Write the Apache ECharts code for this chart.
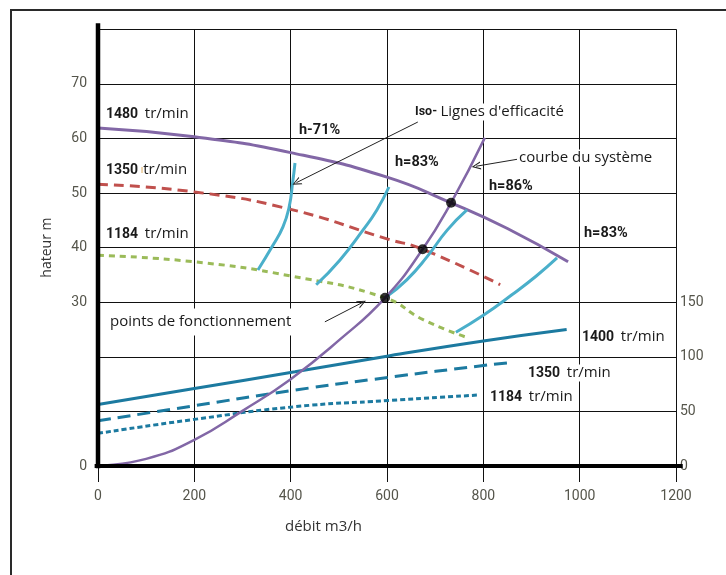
<!DOCTYPE html>
<html>
<head>
<meta charset="utf-8">
<script src="https://cdn.jsdelivr.net/npm/echarts@6/dist/echarts.min.js"></script>
<style>
html,body{margin:0;padding:0;background:#fff;}
#frame{position:absolute;left:10px;top:9px;width:740px;height:600px;border-left:2px solid #2a2a2a;border-top:2px solid #2a2a2a;}
#chart{position:absolute;left:0;top:0;width:726px;height:575px;}
</style>
</head>
<body>
<div id="frame"></div>
<div id="chart"></div>
<script>
// ---- data ----
// x: débit m3/h ; left y: hauteur m ; right y: puissance
const xTickValues = [0, 200, 400, 600, 800, 1000, 1200];
const leftTickLabels = [0, 30, 40, 50, 60, 70];
const rightTickLabels = [0, 50, 100, 150];

// pump head curves (left axis)
const head1480 = [[0,61.9],[200,60.3],[400,57.4],[600,52.9],[733,48.2],[850,43.5],[976,37.4]];
const head1350 = [[0,51.6],[200,50.2],[400,47.0],[600,41.6],[674,39.7],[835,33.2]];
const head1184 = [[0,38.6],[200,37.4],[400,34.8],[596,30.8],[675,26.8],[764,23.6]];

// system curve (left axis)
const systemCurve = [[0,0],[100,1.3],[200,4.8],[300,10.1],[400,15.9],[500,23.0],[596,30.8],[674,39.7],[733,48.2],[803,60.1]];

// operating points
const operatingPoints = [[596,30.8],[674,39.7],[733,48.2]];

// iso-efficiency lines (left axis)
const eff71 = [[332,35.9],[361,40.1],[384,43.8],[397,47.5],[404,51.8],[409,55.5]];
const eff83a = [[453,33.2],[502,37.7],[550,43.2],[579,46.9],[604,51.1]];
const eff86 = [[596,30.8],[641,34.1],[683,38.3],[725,43.2],[766,46.9]];
const eff83b = [[743,24.5],[800,27.6],[860,31.4],[910,34.8],[953,38.1]];

// power curves (right axis)
const power1400 = [[0,56.4],[200,71.0],[409,86.3],[606,101.0],[800,114.5],[973,125.0]];
const power1350 = [[0,41.4],[200,55.2],[409,69.5],[602,81.1],[800,92.0],[859,94.8]];
const power1184 = [[0,29.9],[200,42.7],[409,54.3],[602,59.9],[790,65.0]];

// annotation arrows (data coords: from -> to)
const arrowIso = [[664,63.0],[412,51.9]];
const arrowSys = [[872,56.2],[785,54.9]];
const arrowPts = [[471,26.4],[548,29.9]];

// ---- chart ----
const chart = echarts.init(document.getElementById('chart'), null, {renderer:'canvas'});
const tickFont = 'Roboto';
const tickColor = '#55554b';
const txtFont = '"Open Sans"';
const PURPLE = '#8267a6', RED = '#c0504d', GREEN = '#9bbb59', CYAN = '#4aafca', TEAL = '#1c7aa0';
const chevron = 'path://M50,0 L100,100 L86,100 L50,26 L14,100 L0,100 Z';

function lineSeries(data, color, type, width, yIdx, extra) {
  return Object.assign({
    type: 'line', data: data, yAxisIndex: yIdx || 0, xAxisIndex: 0,
    smooth: 0.5, showSymbol: false, symbol: 'none', silent: true,
    lineStyle: {color: color, width: width || 3, type: type || 'solid', cap: 'butt'},
    z: 3
  }, extra || {});
}
function arrowLine(pair) {
  return [{coord: pair[0]}, {coord: pair[1]}];
}

const option = {
  animation: false,
  backgroundColor: 'transparent',
  grid: {left: 98, right: 50, top: 29.2, bottom: 109, containLabel: false},
  title: {
    text: 'débit m3/h', left: 280, top: 514,
    textStyle: {fontFamily: txtFont, fontSize: 15, fontWeight: 'normal', color: '#333'}
  },
  xAxis: [{
    type: 'value', min: 0, max: 1200, interval: 200, position: 'bottom',
    axisLine: {show: false},
    axisTick: {show: true, length: 16, inside: false, lineStyle: {color: '#111', width: 1}},
    axisLabel: {margin: 23, fontFamily: tickFont, fontSize: 14, color: tickColor,
      formatter: v => xTickValues.indexOf(v) >= 0 ? String(v) : ''},
    splitLine: {show: true, lineStyle: {color: '#111', width: 1}}
  }, {
    type: 'value', min: 0, max: 1200, interval: 200, position: 'top',
    axisLine: {show: false},
    axisTick: {show: true, length: 8, inside: false, lineStyle: {color: '#111', width: 1}},
    axisLabel: {show: false}, splitLine: {show: false}
  }],
  yAxis: [{
    type: 'value', min: 0, max: 80, interval: 10, position: 'left',
    name: 'hateur m', nameLocation: 'middle', nameGap: 44, nameRotate: 90,
    nameTextStyle: {fontFamily: txtFont, fontSize: 14, color: '#333'},
    axisLine: {show: false}, axisTick: {show: false},
    axisLabel: {margin: 11, fontFamily: tickFont, fontSize: 14, color: tickColor,
      formatter: v => leftTickLabels.indexOf(v) >= 0 ? String(v) : ''},
    splitLine: {show: true, lineStyle: {color: '#111', width: 1}}
  }, {
    type: 'value', min: 0, max: 400, interval: 50, position: 'right',
    axisLine: {show: false},
    axisTick: {show: true, length: 7, inside: false, lineStyle: {color: '#111', width: 1}},
    axisLabel: {margin: 4, fontFamily: tickFont, fontSize: 14, color: tickColor,
      formatter: v => rightTickLabels.indexOf(v) >= 0 ? String(v) : ''},
    splitLine: {show: false}
  }],
  series: [
    lineSeries(power1400, TEAL, 'solid', 3, 1),
    lineSeries(power1350, TEAL, [13, 7], 3, 1),
    lineSeries(power1184, TEAL, [5, 3], 3, 1),
    lineSeries(head1480, PURPLE, 'solid', 3, 0),
    lineSeries(head1350, RED, [10, 6], 3, 0),
    lineSeries(head1184, GREEN, [6, 5], 3, 0),
    lineSeries(eff71, CYAN, 'solid', 3, 0),
    lineSeries(eff83a, CYAN, 'solid', 3, 0),
    lineSeries(eff86, CYAN, 'solid', 3, 0),
    lineSeries(eff83b, CYAN, 'solid', 3, 0),
    lineSeries(systemCurve, PURPLE, 'solid', 2.5, 0, {
      markLine: {
        silent: true, animation: false,
        symbol: ['none', chevron], symbolSize: [8, 9],
        label: {show: false},
        lineStyle: {color: '#222', width: 1, type: 'solid'},
        emphasis: {disabled: true},
        data: [arrowLine(arrowIso), arrowLine(arrowSys), arrowLine(arrowPts)]
      }
    }),
    {
      type: 'scatter', data: operatingPoints, xAxisIndex: 0, yAxisIndex: 0,
      symbol: 'circle', symbolSize: 10, silent: true,
      itemStyle: {color: '#000'}, z: 5
    }
  ]
};
chart.setOption(option);

// thick axis lines, positioned through the axes' own scales
const pTop = chart.convertToPixel({seriesIndex: 3}, [0, 81.1]);
const pBot = chart.convertToPixel({seriesIndex: 3}, [0, -0.4]);
const pL = chart.convertToPixel({seriesIndex: 3}, [-7, 0]);
const pR = chart.convertToPixel({seriesIndex: 3}, [1214, 0]);

function lbl(x, y, text, rich, extra) {
  return Object.assign({
    type: 'text', x: x, y: y, z: 20,
    style: Object.assign({text: text, rich: rich, verticalAlign: 'middle', align: 'left',
      backgroundColor: '#fff', padding: [1, 2]}, extra || {})
  });
}
const richRpm = {
  b: {fontFamily: 'Roboto', fontWeight: 'bold', fontSize: 14, fill: '#1a1a1a', color: '#1a1a1a'},
  n: {fontFamily: txtFont, fontSize: 15, fill: '#1a1a1a', color: '#1a1a1a'},
  o: {fontFamily: txtFont, fontSize: 10, fill: '#d9a04a', color: '#d9a04a'}
};
const richPct = {
  p: {fontFamily: 'Roboto', fontWeight: 'bold', fontSize: 14.5, fill: '#1a1a1a', color: '#1a1a1a'}
};
const richIso = {
  b: {fontFamily: 'Roboto', fontWeight: 'bold', fontSize: 12.5, fill: '#1a1a1a', color: '#1a1a1a'},
  n: {fontFamily: txtFont, fontSize: 15, fill: '#1a1a1a', color: '#1a1a1a'}
};

chart.setOption({
  graphic: [
    {type: 'line', z: 10, shape: {x1: pTop[0], y1: pTop[1], x2: pBot[0], y2: pBot[1]},
      style: {stroke: '#000', lineWidth: 4.5}},
    {type: 'line', z: 10, shape: {x1: pL[0], y1: pL[1], x2: pR[0], y2: pR[1]},
      style: {stroke: '#000', lineWidth: 4}},
    lbl(104, 114, '{b|1480}  {n|tr/min}', richRpm),
    lbl(104, 170, '{b|1350}{o| ı}{n|tr/min}', richRpm),
    lbl(104, 234, '{b|1184}  {n|tr/min}', richRpm),
    lbl(580, 337, '{b|1400}  {n|tr/min}', richRpm),
    lbl(526, 373, '{b|1350}  {n|tr/min}', richRpm),
    lbl(488, 397, '{b|1184}  {n|tr/min}', richRpm),
    lbl(297, 130, '{p|h-71%}', richPct, {backgroundColor: 'transparent'}),
    lbl(393, 162, '{p|h=83%}', richPct, {backgroundColor: 'transparent'}),
    lbl(487, 186, '{p|h=86%}', richPct, {backgroundColor: 'transparent'}),
    lbl(582, 233, '{p|h=83%}', richPct, {backgroundColor: 'transparent'}),
    lbl(413, 112, '{b|Iso-} {n|Lignes d\'efficacité}', richIso),
    lbl(517, 158, '{n|courbe du système}', richIso),
    lbl(108, 322, '{n|points de fonctionnement}', richIso, {padding: [6, 2]})
  ]
});
</script>
</body>
</html>
